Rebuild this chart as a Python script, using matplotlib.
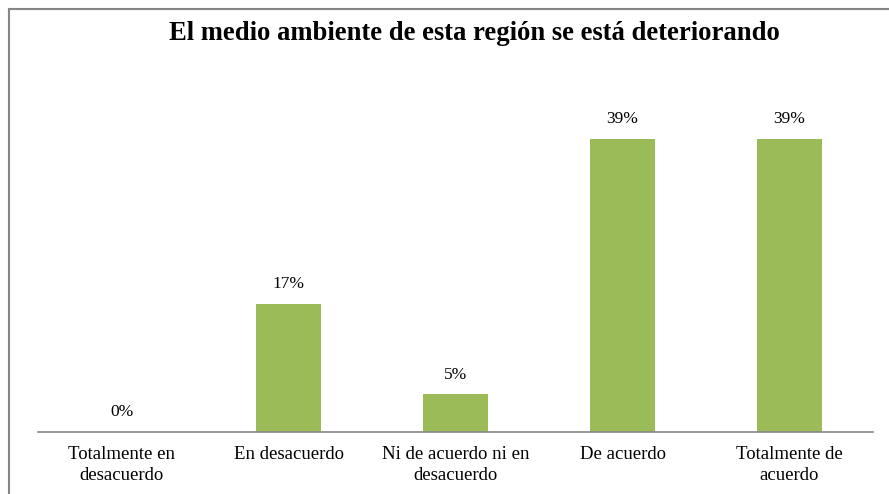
import matplotlib
matplotlib.use("Agg")
from matplotlib import pyplot as plt
from matplotlib.lines import Line2D

categories = ["Totalmente en\ndesacuerdo", "En desacuerdo", "Ni de acuerdo ni en\ndesacuerdo",
              "De acuerdo", "Totalmente de\nacuerdo"]
values = [0, 17, 5, 39, 39]
labels = ["0%", "17%", "5%", "39%", "39%"]

plt.rcParams['font.family'] = ['Liberation Serif', 'DejaVu Serif']

fig = plt.figure(figsize=(8.89, 4.94), dpi=100)
W, H = 889, 494
ax = fig.add_axes([38 / W, 1 - 432 / H, (873 - 38) / W, (432 - 62) / H])

x = range(len(categories))
bars = ax.bar(x, values, width=0.395, color="#9BBB59")
for b, lab in zip(bars, labels):
    ax.text(b.get_x() + b.get_width() / 2, b.get_height() + 1.55, lab,
            ha="center", va="bottom", fontsize=12.5)

ax.set_xlim(-0.5, len(categories) - 0.5)
ax.set_ylim(0, 49.2)
ax.set_xticks(list(x))
ax.set_xticklabels(categories, fontsize=13.5, linespacing=1.3)
ax.tick_params(axis="x", length=0, pad=10)
ax.set_yticks([])
for s in ["top", "right", "left"]:
    ax.spines[s].set_visible(False)
ax.spines["bottom"].set_color("#868686")
ax.spines["bottom"].set_linewidth(1.2)

fig.text(474 / W, 1 - 33 / H, "El medio ambiente de esta región se está deteriorando",
         ha="center", va="center", fontsize=19.2, fontweight="bold")

# outer chart border (runs past right and bottom edges)
fig.add_artist(Line2D([8.5 / W, 1.0], [1 - 9.5 / H, 1 - 9.5 / H], transform=fig.transFigure,
                      color="#868686", lw=1.5))
fig.add_artist(Line2D([8.5 / W, 8.5 / W], [0.0, 1 - 9.5 / H], transform=fig.transFigure,
                      color="#868686", lw=1.5))

fig.savefig("out.png", dpi=100)
